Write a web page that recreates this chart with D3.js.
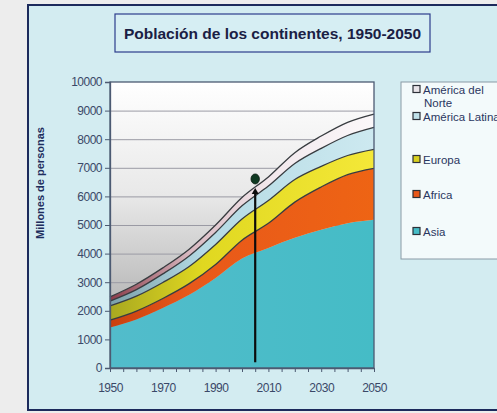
<!DOCTYPE html>
<html>
<head>
<meta charset=utf-8>
<style>
body {margin: 0; background: #ededed; overflow: hidden;}
svg {display: block; font-family: Arial, "Liberation Sans", sans-serif;}
</style>
</head>
<body>
<svg id=chart width=497 height=413></svg>
<script src='https://cdn.jsdelivr.net/npm/d3@7/dist/d3.min.js'></script>
<script>
//data, millions of people
var years   = [1950, 1960, 1970, 1980, 1990, 2000, 2010, 2020, 2030, 2040, 2050];
var asia    = [1420, 1700, 2100, 2560, 3150, 3830, 4200, 4550, 4830, 5060, 5180];
var africa  = [ 250,  290,  330,  390,  470,  640,  860, 1250, 1500, 1700, 1800];
var europa  = [ 500,  520,  560,  600,  700,  740,  800,  790,  720,  670,  665];
var latina  = [ 170,  230,  300,  370,  420,  460,  500,  560,  630,  700,  770];
var norte   = [ 150,  190,  210,  235,  260,  290,  320,  380,  430,  460,  465];
var keys = ['Asia', 'Africa', 'Europa', 'América Latina', 'América del Norte'];
var yTicks = [0, 1000, 2000, 3000, 4000, 5000, 6000, 7000, 8000, 9000, 10000];
var xTicks = [1950, 1970, 1990, 2010, 2030, 2050];
//annotation arrow
var arrowYear = 2005, arrowFrom = 200, arrowTo = 6290, dotValue = 6610;

var table = years.map(function(y, i) {
  return {year: y, 'Asia': asia[i], 'Africa': africa[i], 'Europa': europa[i],
          'América Latina': latina[i], 'América del Norte': norte[i]};
});

var svg = d3.select('#chart');
var margin = {left: 110, top: 82, right: 123, bottom: 45};
var width = 497 - margin.left - margin.right;   // 264
var height = 413 - margin.top - margin.bottom;  // 286

var x = d3.scaleLinear().domain([1950, 2050]).range([0, width]);
var y = d3.scaleLinear().domain([0, 10000]).range([height, 0]);

var defs = svg.append('defs');
function grad(id, stops, horizontal) {
  var g = defs.append('linearGradient').attr('id', id)
      .attr('x1', 0).attr('y1', 0)
      .attr('x2', horizontal ? 1 : 0).attr('y2', horizontal ? 0 : 1);
  stops.forEach(function(s) {
    g.append('stop').attr('offset', s[0]).attr('stop-color', s[1]);
  });
}
grad('bg', [[0, '#ffffff'], [0.4, '#e8e8e8'], [1, '#9a9a9a']], false);
grad('g-asia', [[0, '#52bccb'], [1, '#45bcc6']], true);
grad('g-africa', [[0, '#c9400f'], [0.3, '#e8581a'], [1, '#ee6414']], true);
grad('g-europa', [[0, '#a8a820'], [0.35, '#e0d820'], [1, '#f4e838']], true);
grad('g-latina', [[0, '#7aa0aa'], [0.35, '#b4dae4'], [1, '#cde9f0']], true);
grad('g-norte', [[0, '#8a3a48'], [0.3, '#d8b8c0'], [0.6, '#f2e8ec'], [1, '#fbf8fa']], true);
var fills = {'Asia': 'url(#g-asia)', 'Africa': 'url(#g-africa)', 'Europa': 'url(#g-europa)',
             'América Latina': 'url(#g-latina)', 'América del Norte': 'url(#g-norte)'};
var swatch = {'Asia': '#45bcc6', 'Africa': '#e8581a', 'Europa': '#d8d020',
              'América Latina': '#c0e2ea', 'América del Norte': '#e8e4e8'};

//outer frame
svg.append('rect').attr('x', 28).attr('y', 5).attr('width', 490).attr('height', 405)
    .attr('fill', '#d3ecf1').attr('stroke', '#1c2a5c').attr('stroke-width', 2);

//title
svg.append('rect').attr('x', 115).attr('y', 14).attr('width', 315).attr('height', 38)
    .attr('fill', '#d6eef3').attr('stroke', '#2c3c8c').attr('stroke-width', 1.2);
svg.append('text').attr('x', 272.5).attr('y', 39).attr('text-anchor', 'middle')
    .attr('font-size', 15.5).attr('font-weight', 'bold').attr('fill', '#1a2044')
    .text('Población de los continentes, 1950-2050');

var g = svg.append('g').attr('transform', 'translate(' + margin.left + ',' + margin.top + ')');

g.append('rect').attr('width', width).attr('height', height).attr('fill', 'url(#bg)');

//gridlines
g.selectAll('.grid').data(yTicks.slice(1, -1)).enter().append('line')
    .attr('x1', 0).attr('x2', width)
    .attr('y1', function(d) { return y(d) + 0.5; }).attr('y2', function(d) { return y(d) + 0.5; })
    .attr('stroke', '#9a9aa4').attr('stroke-width', 1);

//stacked areas
var stack = d3.stack().keys(keys);
var layers = stack(table);
var area = d3.area().curve(d3.curveMonotoneX)
    .x(function(d) { return x(d.data.year); })
    .y0(function(d) { return y(d[0]); })
    .y1(function(d) { return y(d[1]); });
var topLine = d3.line().curve(d3.curveMonotoneX)
    .x(function(d) { return x(d.data.year); })
    .y(function(d) { return y(d[1]); });

g.selectAll('.layer').data(layers).enter().append('path')
    .attr('d', area).attr('fill', function(d) { return fills[d.key]; });
g.selectAll('.edge').data(layers.slice(1)).enter().append('path')
    .attr('d', topLine).attr('fill', 'none')
    .attr('stroke', '#383c40').attr('stroke-width', 1.3);

//frame of plot
g.append('rect').attr('width', width).attr('height', height)
    .attr('fill', 'none').attr('stroke', '#4c5a72').attr('stroke-width', 1.3);

//arrow annotation
var ax = x(arrowYear);
g.append('line').attr('x1', ax).attr('x2', ax)
    .attr('y1', y(arrowFrom)).attr('y2', y(arrowTo) + 5)
    .attr('stroke', '#0c0c0c').attr('stroke-width', 2.2);
g.append('path')
    .attr('d', 'M' + (ax - 3.5) + ',' + (y(arrowTo) + 6) + 'L' + ax + ',' + y(arrowTo) + 'L' + (ax + 3.5) + ',' + (y(arrowTo) + 6) + 'Z')
    .attr('fill', '#0c0c0c');
g.append('ellipse').attr('cx', ax).attr('cy', y(dotValue)).attr('rx', 4.2).attr('ry', 5)
    .attr('fill', '#0f3a22').attr('stroke', '#0a1a10').attr('stroke-width', 0.8);

//axes
var axisColor = '#4c5a72', labelColor = '#3a4868';
var yAxis = g.append('g')
    .call(d3.axisLeft(y).tickValues(yTicks).tickSize(5).tickPadding(3).tickFormat(d3.format('d')));
var xAxis = g.append('g').attr('transform', 'translate(0,' + height + ')')
    .call(d3.axisBottom(x).tickValues(xTicks).tickSize(0).tickPadding(15).tickFormat(d3.format('d')));
g.append('g').attr('transform', 'translate(0,' + height + ')')
    .call(d3.axisBottom(x).tickValues(d3.range(1950, 2051, 5)).tickSize(4).tickFormat(''))
    .select('.domain').remove();
[yAxis, xAxis].forEach(function(a) {
  a.select('.domain').attr('stroke', axisColor).attr('stroke-width', 1.3);
  a.selectAll('text').attr('fill', labelColor).attr('font-size', 12)
      .attr('font-family', 'Arial, "Liberation Sans", sans-serif').attr('letter-spacing', -0.5);
});
g.selectAll('.tick line').attr('stroke', axisColor);

//y axis title
svg.append('text').attr('transform', 'translate(44,183) rotate(-90)')
    .attr('text-anchor', 'middle').attr('font-size', 11).attr('font-weight', 'bold')
    .attr('fill', '#1f2e5e').text('Millones de personas');

//legend
svg.append('rect').attr('x', 401).attr('y', 82).attr('width', 120).attr('height', 177)
    .attr('fill', '#f3fafb').attr('stroke', '#8a9aa6').attr('stroke-width', 1);
var legendRows = [
  {key: 'América del Norte', lines: ['América del', 'Norte'], y: 89},
  {key: 'América Latina', lines: ['América Latina'], y: 116},
  {key: 'Europa', lines: ['Europa'], y: 159},
  {key: 'Africa', lines: ['Africa'], y: 194},
  {key: 'Asia', lines: ['Asia'], y: 231}
];
var lg = svg.selectAll('.leg').data(legendRows).enter().append('g')
    .attr('transform', function(d) { return 'translate(413,' + d.y + ')'; });
lg.append('rect').attr('x', 0).attr('y', -3.5).attr('width', 7).attr('height', 7)
    .attr('fill', function(d) { return swatch[d.key]; })
    .attr('stroke', '#2c3038').attr('stroke-width', 1.2);
lg.append('text').attr('x', 10).attr('y', 4.5).attr('font-size', 11.5).attr('fill', '#2a3660')
    .selectAll('tspan').data(function(d) { return d.lines; }).enter().append('tspan')
    .attr('x', function(d, i) { return i ? 11 : 10; })
    .attr('dy', function(d, i) { return i ? 13 : 0; })
    .text(function(d) { return d; });
</script>
</body>
</html>
